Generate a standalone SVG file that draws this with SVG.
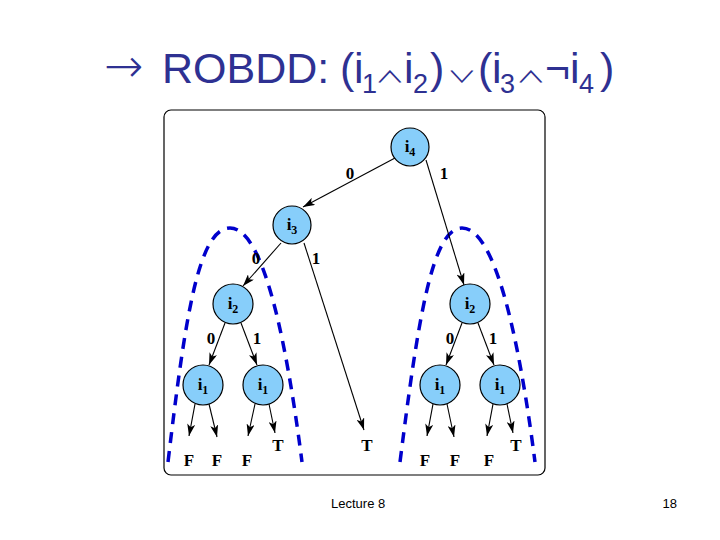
<svg xmlns="http://www.w3.org/2000/svg" width="720" height="540" viewBox="0 0 720 540">
<defs>
<marker id="arr" viewBox="0 0 12 8" refX="12" refY="4" markerWidth="12" markerHeight="8" markerUnits="userSpaceOnUse" orient="auto">
<path d="M0,0 L12,4 L0,8 L3,4 z" fill="#000"/>
</marker>
<style>
.title{font-family:"Liberation Sans",Arial,"DejaVu Sans",sans-serif;fill:#2e3192;font-size:43px}
.sub{font-size:27px}
.arrow{font-family:"DejaVu Sans",sans-serif;font-weight:200;font-size:47px;fill:#2e3192}
.op{font-family:"Noto Sans CJK JP","Noto Sans CJK SC",sans-serif;font-weight:400;font-size:33px;fill:#2e3192}
.node circle{fill:#87cefa;stroke:#000;stroke-width:1.2}
.lbl{font-family:"Liberation Serif","Times New Roman",serif;font-weight:bold;font-size:17px;fill:#000;text-anchor:middle}
.nsub{font-size:12px}
.edge{stroke:#000;stroke-width:1.1;fill:none;marker-end:url(#arr)}
.dash{stroke:#0000cc;stroke-width:3.5;fill:none;stroke-dasharray:11 8}
.foot{font-family:"Liberation Sans",Arial,sans-serif;font-size:13px;fill:#000}
</style>
</defs>
<rect width="720" height="540" fill="#fff"/>
<g id="title">
<text class="arrow" x="104" y="82">→</text>
<text class="title" y="83"><tspan x="162">ROBDD:</tspan><tspan x="340">(</tspan><tspan x="354">i</tspan><tspan class="sub" x="362" y="93">1</tspan><tspan x="404" y="83">i</tspan><tspan class="sub" x="413" y="93">2</tspan><tspan x="430" y="83">)</tspan><tspan x="478">(</tspan><tspan x="492">i</tspan><tspan class="sub" x="500" y="93">3</tspan><tspan x="545" y="83">¬</tspan><tspan x="570">i</tspan><tspan class="sub" x="579" y="93">4</tspan><tspan x="600" y="83">)</tspan></text>
<text class="op" transform="translate(375,82.5) scale(0.9,0.5)">∧</text>
<text class="op" transform="translate(447,82.5) scale(0.9,0.5)">∨</text>
<text class="op" transform="translate(516,82.5) scale(0.9,0.5)">∧</text>
</g>
<rect x="164" y="110" width="381" height="365" rx="7" fill="#fff" stroke="#000" stroke-width="1.2"/>
<g id="arcs">
<path class="dash" d="M168,462 C185,320 198,228 230,228 C262,228 285,330 302,462"/>
<path class="dash" d="M400,462 C418,320 432,228 462,228 C494,228 518,330 535,462"/>
</g>
<g id="connectors">
<line class="edge" x1="395" y1="158" x2="303" y2="207"/>
<line class="edge" x1="426" y1="160" x2="464" y2="285"/>
<line class="edge" x1="281" y1="243" x2="243" y2="286"/>
<line class="edge" x1="304" y1="243" x2="364" y2="430"/>
<line class="edge" x1="225" y1="323" x2="209" y2="365"/>
<line class="edge" x1="241" y1="323" x2="257" y2="365"/>
<line class="edge" x1="462" y1="323" x2="446" y2="365"/>
<line class="edge" x1="478" y1="323" x2="494" y2="365"/>
<line class="edge" x1="195" y1="404" x2="189" y2="436"/>
<line class="edge" x1="209" y1="404" x2="217" y2="437"/>
<line class="edge" x1="255" y1="404" x2="248" y2="436"/>
<line class="edge" x1="269" y1="404" x2="275" y2="433"/>
<line class="edge" x1="433" y1="404" x2="427" y2="436"/>
<line class="edge" x1="447" y1="404" x2="454" y2="437"/>
<line class="edge" x1="493" y1="404" x2="487" y2="436"/>
<line class="edge" x1="507" y1="404" x2="513" y2="433"/>
<text class="lbl" x="350" y="179">0</text>
<text class="lbl" x="444" y="179">1</text>
<text class="lbl" x="256" y="264">0</text>
<text class="lbl" x="316" y="264">1</text>
<text class="lbl" x="211" y="344">0</text>
<text class="lbl" x="257" y="344">1</text>
<text class="lbl" x="450" y="344">0</text>
<text class="lbl" x="493" y="344">1</text>
</g>
<g id="n_i4" class="node"><circle cx="410" cy="147" r="19"/><text class="lbl" x="410" y="152">i<tspan class="nsub" dy="4">4</tspan></text></g>
<g id="n_i3" class="node"><circle cx="292" cy="225" r="19"/><text class="lbl" x="292" y="230">i<tspan class="nsub" dy="4">3</tspan></text></g>
<g id="n_i2a" class="node"><circle cx="233" cy="304" r="20"/><text class="lbl" x="233" y="309">i<tspan class="nsub" dy="4">2</tspan></text></g>
<g id="n_i2b" class="node"><circle cx="470" cy="304" r="20"/><text class="lbl" x="470" y="309">i<tspan class="nsub" dy="4">2</tspan></text></g>
<g id="n_i1a" class="node"><circle cx="203" cy="385" r="20"/><text class="lbl" x="203" y="390">i<tspan class="nsub" dy="4">1</tspan></text></g>
<g id="n_i1b" class="node"><circle cx="263" cy="385" r="20"/><text class="lbl" x="263" y="390">i<tspan class="nsub" dy="4">1</tspan></text></g>
<g id="n_i1c" class="node"><circle cx="440" cy="385" r="20"/><text class="lbl" x="440" y="390">i<tspan class="nsub" dy="4">1</tspan></text></g>
<g id="n_i1d" class="node"><circle cx="500" cy="385" r="20"/><text class="lbl" x="500" y="390">i<tspan class="nsub" dy="4">1</tspan></text></g>
<g id="leaves">
<text class="lbl" x="189" y="466">F</text>
<text class="lbl" x="217" y="466">F</text>
<text class="lbl" x="247" y="466">F</text>
<text class="lbl" x="278" y="451">T</text>
<text class="lbl" x="367" y="451">T</text>
<text class="lbl" x="425" y="466">F</text>
<text class="lbl" x="455" y="466">F</text>
<text class="lbl" x="489" y="466">F</text>
<text class="lbl" x="516" y="451">T</text>
</g>
<text class="foot" x="331" y="508">Lecture 8</text>
<text class="foot" x="677" y="508" text-anchor="end">18</text>
</svg>
